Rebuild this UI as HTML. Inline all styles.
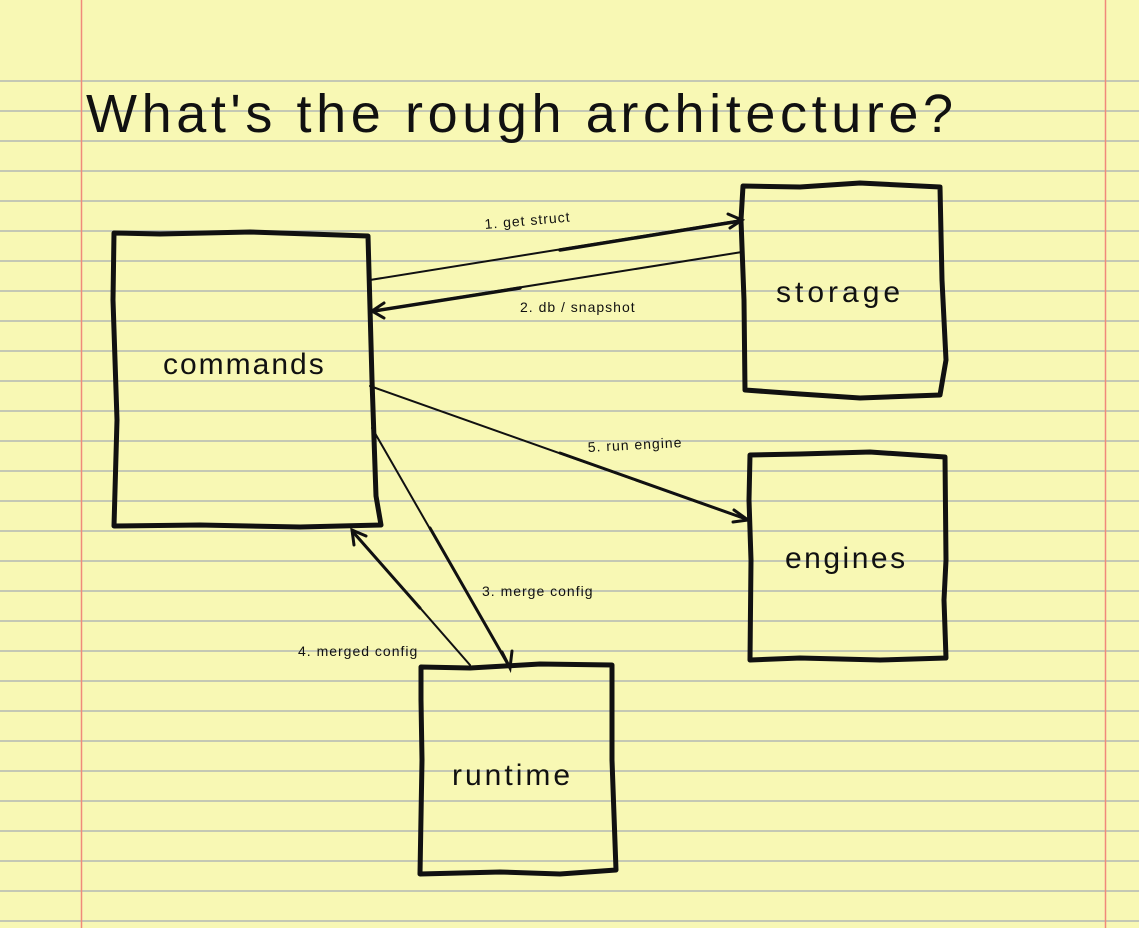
<!DOCTYPE html>
<html><head><meta charset="utf-8"><style>
html,body{margin:0;padding:0;background:#f8f8b4;}
svg{display:block;font-family:"Liberation Sans",sans-serif;}
</style></head><body>
<svg width="1139" height="928" viewBox="0 0 1139 928" xmlns="http://www.w3.org/2000/svg">
<rect width="1139" height="928" fill="#f8f8b4"/>
<g stroke="#a4abb4" stroke-width="1.2">
<line x1="0" y1="81" x2="1139" y2="81"/><line x1="0" y1="111" x2="1139" y2="111"/><line x1="0" y1="141" x2="1139" y2="141"/><line x1="0" y1="171" x2="1139" y2="171"/><line x1="0" y1="201" x2="1139" y2="201"/><line x1="0" y1="231" x2="1139" y2="231"/><line x1="0" y1="261" x2="1139" y2="261"/><line x1="0" y1="291" x2="1139" y2="291"/><line x1="0" y1="321" x2="1139" y2="321"/><line x1="0" y1="351" x2="1139" y2="351"/><line x1="0" y1="381" x2="1139" y2="381"/><line x1="0" y1="411" x2="1139" y2="411"/><line x1="0" y1="441" x2="1139" y2="441"/><line x1="0" y1="471" x2="1139" y2="471"/><line x1="0" y1="501" x2="1139" y2="501"/><line x1="0" y1="531" x2="1139" y2="531"/><line x1="0" y1="561" x2="1139" y2="561"/><line x1="0" y1="591" x2="1139" y2="591"/><line x1="0" y1="621" x2="1139" y2="621"/><line x1="0" y1="651" x2="1139" y2="651"/><line x1="0" y1="681" x2="1139" y2="681"/><line x1="0" y1="711" x2="1139" y2="711"/><line x1="0" y1="741" x2="1139" y2="741"/><line x1="0" y1="771" x2="1139" y2="771"/><line x1="0" y1="801" x2="1139" y2="801"/><line x1="0" y1="831" x2="1139" y2="831"/><line x1="0" y1="861" x2="1139" y2="861"/><line x1="0" y1="891" x2="1139" y2="891"/><line x1="0" y1="921" x2="1139" y2="921"/>
</g>
<line x1="81.5" y1="0" x2="81.5" y2="928" stroke="#f08a7a" stroke-width="1.5"/>
<line x1="1105.5" y1="0" x2="1105.5" y2="928" stroke="#f08a7a" stroke-width="1.5"/>
<text x="86" y="132" font-size="54" letter-spacing="4.6" fill="#111">What's the rough architecture?</text>
<g fill="none" stroke="#111" stroke-width="5" stroke-linejoin="round" stroke-linecap="round">
<path d="M114,233 L160,234 L250,232 L368,236 L372,380 L376,496 L381,525 L300,527 L200,525 L114,526 L117,420 L113,300 Z"/>
<path d="M743,186 L800,187 L860,183 L940,187 L942,280 L946,360 L940,395 L860,398 L800,394 L745,390 L744,300 L741,220 Z"/>
<path d="M750,455 L800,454 L870,452 L945,457 L946,560 L944,600 L946,658 L880,660 L800,658 L750,660 L751,560 L749,500 Z"/>
<path d="M421,667 L470,668 L540,664 L612,665 L612,760 L616,870 L560,874 L500,872 L420,874 L422,760 L421,700 Z"/>
</g>
<g stroke="#111" fill="none" stroke-linecap="round">
<line x1="370" y1="280" x2="742" y2="220" stroke-width="2"/>
<line x1="560" y1="250" x2="740" y2="221" stroke-width="3.5"/>
<path d="M728,214 L742,220 L730,228" stroke-width="3"/>
<line x1="742" y1="252" x2="372" y2="311" stroke-width="2"/>
<line x1="520" y1="288" x2="374" y2="311" stroke-width="3.5"/>
<path d="M384,303 L372,311 L384,318" stroke-width="3"/>
<line x1="370" y1="386" x2="748" y2="520" stroke-width="2"/>
<line x1="560" y1="453" x2="746" y2="519" stroke-width="3"/>
<path d="M734,510 L748,520 L733,522" stroke-width="3"/>
<line x1="372" y1="428" x2="510" y2="668" stroke-width="2"/>
<line x1="430" y1="528" x2="509" y2="666" stroke-width="3"/>
<path d="M502,652 L510,668 L512,651" stroke-width="3"/>
<line x1="470" y1="665" x2="352" y2="530" stroke-width="2"/>
<line x1="420" y1="608" x2="353" y2="532" stroke-width="3"/>
<path d="M354,545 L352,530 L366,536" stroke-width="3"/>
</g>
<g fill="#111" font-size="14" letter-spacing="1">
<text x="485" y="229" transform="rotate(-5 485 229)">1. get struct</text>
<text x="520" y="312">2. db / snapshot</text>
<text x="588" y="452" transform="rotate(-3 588 452)">5. run engine</text>
<text x="482" y="596">3. merge config</text>
<text x="298" y="656">4. merged config</text>
</g>
<g fill="#111" font-size="30" letter-spacing="2">
<text x="163" y="374">commands</text>
<text x="776" y="302" letter-spacing="4">storage</text>
<text x="785" y="568" letter-spacing="2.5">engines</text>
<text x="452" y="785" letter-spacing="3">runtime</text>
</g>
</svg>
</body></html>
